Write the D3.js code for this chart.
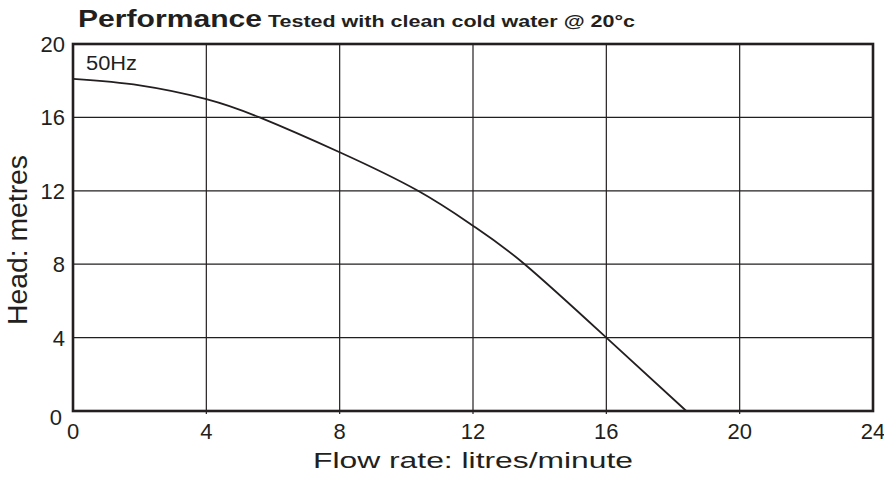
<!DOCTYPE html>
<html>
<head>
<meta charset="utf-8">
<script src="https://cdn.jsdelivr.net/npm/d3@7"></script>
<style>
  body { margin: 0; background: #fff; }
  svg text { font-family: "Liberation Sans", Arial, Helvetica, sans-serif; fill: #231f20; }
</style>
</head>
<body>
<div id="chart"></div>
<script>
// flow (l/min) vs head (m)
var flow = [0, 2, 4, 5.6, 8, 10.35, 12, 13.55, 16, 18.4];
var head = [18.1, 17.75, 17.0, 16, 14.1, 12, 10.1, 8, 4.0, 0];
var xTicks = [0, 4, 8, 12, 16, 20, 24];
var yTicks = [0, 4, 8, 12, 16, 20];

var width = 884, height = 477;
var margin = {left: 73, right: 11, top: 44, bottom: 66};

var svg = d3.select("#chart").append("svg")
    .attr("width", width)
    .attr("height", height);

var x = d3.scaleLinear().domain([0, 24]).range([margin.left, width - margin.right]);
var y = d3.scaleLinear().domain([0, 20]).range([height - margin.bottom, margin.top]);

// grid
svg.append("g").selectAll("line")
    .data(xTicks.slice(1, -1))
    .enter().append("line")
    .attr("x1", d => x(d)).attr("x2", d => x(d))
    .attr("y1", y(20)).attr("y2", y(0) + 3)
    .attr("stroke", "#231f20").attr("stroke-width", 1.2);

svg.append("g").selectAll("line")
    .data(yTicks.slice(1, -1))
    .enter().append("line")
    .attr("x1", x(0)).attr("x2", x(24))
    .attr("y1", d => y(d)).attr("y2", d => y(d))
    .attr("stroke", "#231f20").attr("stroke-width", 1.2);

// frame
svg.append("rect")
    .attr("x", x(0)).attr("y", y(20))
    .attr("width", x(24) - x(0)).attr("height", y(0) - y(20))
    .attr("fill", "none").attr("stroke", "#231f20").attr("stroke-width", 2.6);

// tick labels
svg.append("g").selectAll("text")
    .data(xTicks)
    .enter().append("text")
    .attr("x", d => x(d))
    .attr("y", y(0) + 28)
    .attr("text-anchor", "middle")
    .attr("font-size", 22)
    .text(d => d);

svg.append("g").selectAll("text")
    .data(yTicks)
    .enter().append("text")
    .attr("x", d => d === 0 ? 62 : 65)
    .attr("y", d => d === 0 ? y(d) + 14 : y(d) + 8)
    .attr("text-anchor", "end")
    .attr("font-size", 22)
    .text(d => d);

// curve
var line = d3.line()
    .x(d => x(d[0]))
    .y(d => y(d[1]))
    .curve(d3.curveNatural);

svg.append("path")
    .datum(d3.zip(flow, head))
    .attr("d", line)
    .attr("fill", "none")
    .attr("stroke", "#231f20")
    .attr("stroke-width", 1.8);

svg.append("text")
    .attr("x", 86)
    .attr("y", 70)
    .attr("font-size", 20)
    .attr("textLength", 51)
    .attr("lengthAdjust", "spacingAndGlyphs")
    .text("50Hz");

// titles (the original lettering is set wide)
svg.append("text")
    .attr("x", 78)
    .attr("y", 27)
    .attr("font-weight", "bold")
    .attr("font-size", 24)
    .attr("textLength", 184)
    .attr("lengthAdjust", "spacingAndGlyphs")
    .text("Performance");

svg.append("text")
    .attr("x", 268)
    .attr("y", 27)
    .attr("font-weight", "bold")
    .attr("font-size", 17)
    .attr("textLength", 367)
    .attr("lengthAdjust", "spacingAndGlyphs")
    .text("Tested with clean cold water @ 20°c");

svg.append("text")
    .attr("x", 313)
    .attr("y", 468)
    .attr("font-size", 22)
    .attr("textLength", 320)
    .attr("lengthAdjust", "spacingAndGlyphs")
    .text("Flow rate: litres/minute");

svg.append("text")
    .attr("transform", "translate(27,325) rotate(-90)")
    .attr("font-size", 27)
    .attr("textLength", 170)
    .attr("lengthAdjust", "spacingAndGlyphs")
    .text("Head: metres");
</script>
</body>
</html>
